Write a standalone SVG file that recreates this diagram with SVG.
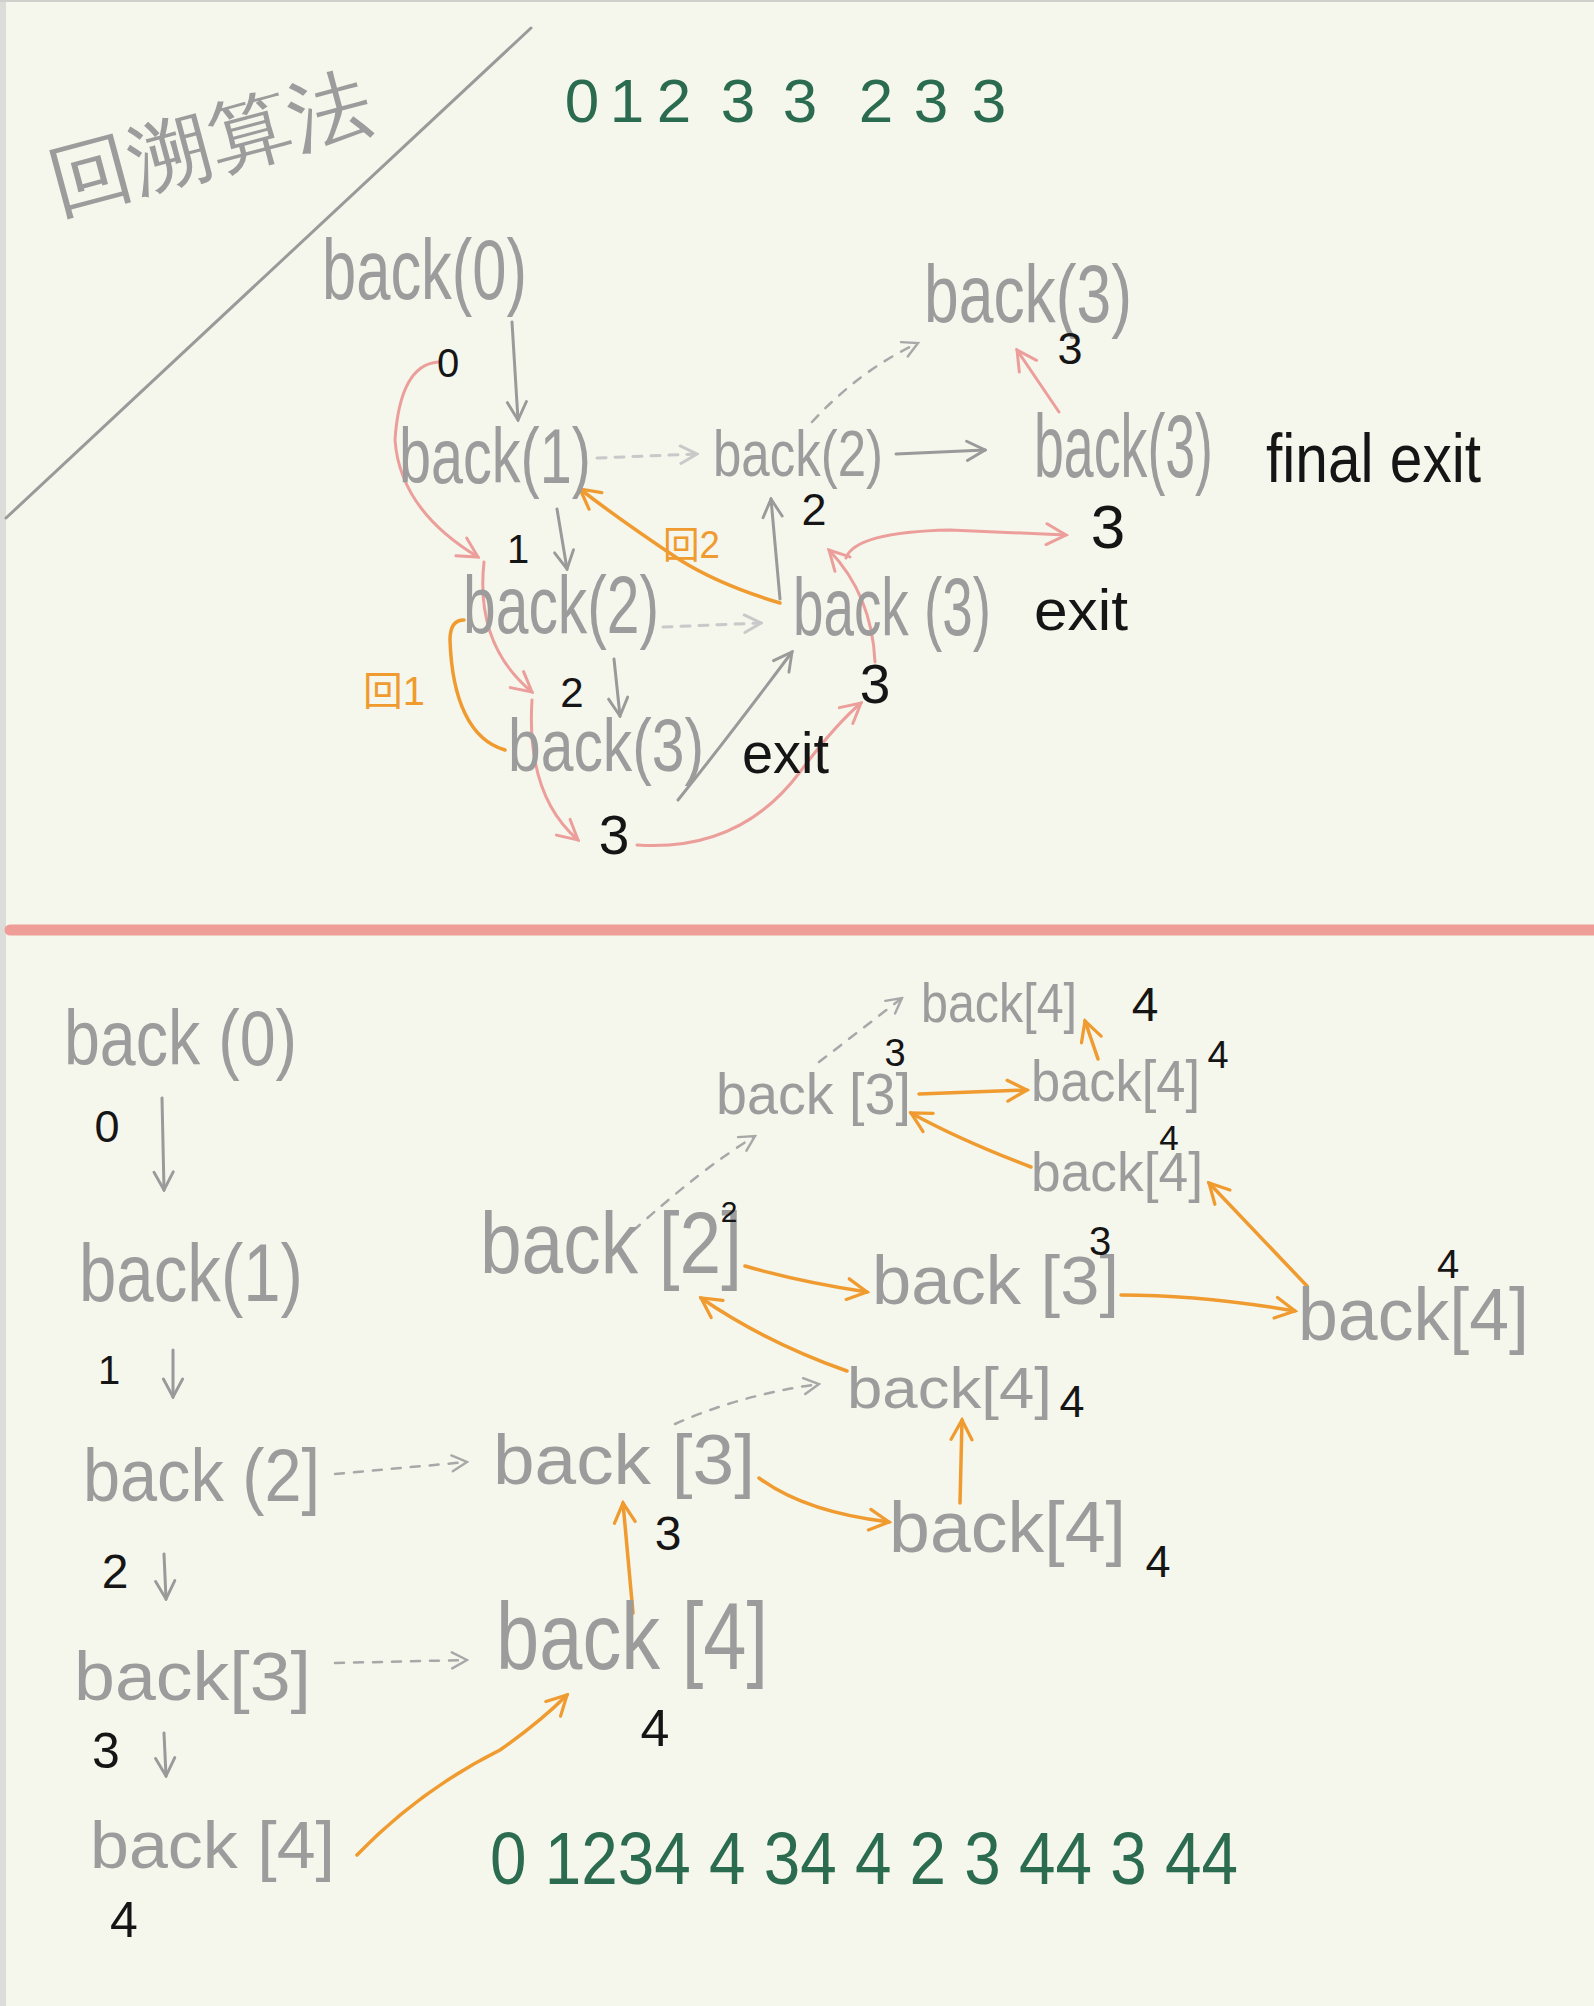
<svg xmlns="http://www.w3.org/2000/svg" width="1594" height="2006" viewBox="0 0 1594 2006">
<defs>
<style>
.n{font-family:"Liberation Sans","DejaVu Sans",sans-serif;fill:#9c9c9c}
.k{font-family:"Liberation Sans","DejaVu Sans",sans-serif;fill:#151515}
.gn{font-family:"Liberation Sans","DejaVu Sans",sans-serif;fill:#2b6b4f}
.o{font-family:"Liberation Sans","Noto Sans CJK SC",sans-serif;fill:#ef9b30}
.cg{fill:none;stroke:#9a9a9a;stroke-width:3;stroke-linecap:round}
.cl{fill:none;stroke:#c9c9c9;stroke-width:3;stroke-linecap:round;stroke-dasharray:9 9}
.cd{fill:none;stroke:#a8a8a8;stroke-width:2.5;stroke-linecap:round;stroke-dasharray:9 10}
.cp{fill:none;stroke:#ec9e9b;stroke-width:3;stroke-linecap:round}
.co{fill:none;stroke:#ef9b30;stroke-width:3.5;stroke-linecap:round}
</style>
<marker id="mg" viewBox="0 0 20 20" refX="18" refY="10" markerWidth="24" markerHeight="24" orient="auto" markerUnits="userSpaceOnUse"><path d="M3,2 L18,10 L3,18" fill="none" stroke="#9a9a9a" stroke-width="2.4" stroke-linecap="round"/></marker>
<marker id="ml" viewBox="0 0 20 20" refX="18" refY="10" markerWidth="22" markerHeight="22" orient="auto" markerUnits="userSpaceOnUse"><path d="M3,2 L18,10 L3,18" fill="none" stroke="#c9c9c9" stroke-width="2.6" stroke-linecap="round"/></marker>
<marker id="md" viewBox="0 0 20 20" refX="18" refY="10" markerWidth="20" markerHeight="20" orient="auto" markerUnits="userSpaceOnUse"><path d="M3,2 L18,10 L3,18" fill="none" stroke="#a8a8a8" stroke-width="2.4" stroke-linecap="round"/></marker>
<marker id="mp" viewBox="0 0 20 20" refX="18" refY="10" markerWidth="26" markerHeight="26" orient="auto" markerUnits="userSpaceOnUse"><path d="M3,2 L18,10 L3,18" fill="none" stroke="#ec9e9b" stroke-width="2.3" stroke-linecap="round"/></marker>
<marker id="mo" viewBox="0 0 20 20" refX="18" refY="10" markerWidth="26" markerHeight="26" orient="auto" markerUnits="userSpaceOnUse"><path d="M3,2 L18,10 L3,18" fill="none" stroke="#ef9b30" stroke-width="2.5" stroke-linecap="round"/></marker>
</defs>
<rect width="1594" height="2006" fill="#f5f6ec"/>
<rect x="0" y="0" width="6" height="2006" fill="#dcdcd8"/>
<rect x="0" y="0" width="1594" height="2" fill="#cfcfcb"/>

<g id="title">
<text class="n" x="36" y="172" font-size="80" font-family="'Noto Sans CJK SC',sans-serif" fill="#a3a3a3" transform="rotate(-15 199 110)" textLength="330" lengthAdjust="spacingAndGlyphs">回溯算法</text>
<line x1="531" y1="28" x2="6" y2="518" stroke="#9a9a9a" stroke-width="3" stroke-linecap="round"/>
</g>

<g id="divider"><line x1="10" y1="930" x2="1594" y2="930" stroke="#ee9e97" stroke-width="11" stroke-linecap="round"/></g>

<g id="seq-top"><text class="gn" y="122" font-size="62" text-anchor="middle" x="582 605 627 651 674 706 738 769 800 838 876 903 931 960 989">0 1 2 3 3 2 3 3</text></g>
<g id="seq-bottom"><text class="gn" x="490" y="1884" font-size="74" textLength="748" lengthAdjust="spacingAndGlyphs">0 1234 4 34 4 2 3 44 3 44</text></g>

<g id="connectors">
<!-- top -->
<path class="cg" d="M512,322 L518,420" marker-end="url(#mg)"/>
<path class="cl" d="M597,458 L697,454" marker-end="url(#ml)"/>
<path class="cg" d="M896,454 L985,450" marker-end="url(#mg)"/>
<path class="cd" d="M812,422 Q860,370 918,343" marker-end="url(#md)"/>
<path class="cp" d="M1059,412 L1017,350" marker-end="url(#mp)"/>
<path class="cg" d="M780,599 L771,499" marker-end="url(#mg)"/>
<path class="cp" d="M875,662 Q872,595 829,550" marker-end="url(#mp)"/>
<path class="cp" d="M846,558 Q855,532 950,530 L1066,535" marker-end="url(#mp)"/>
<path class="co" d="M780,603 Q720,585 680,560 Q620,520 580,489" marker-end="url(#mo)"/>
<path class="cg" d="M557,509 L567,569" marker-end="url(#mg)"/>
<path class="cl" d="M663,627 L761,623" marker-end="url(#ml)"/>
<path class="cg" d="M614,659 L620,716" marker-end="url(#mg)"/>
<path class="cg" d="M678,800 Q730,735 792,652" marker-end="url(#mg)"/>
<path class="co" d="M505,750 C470,740 452,700 450,640 Q450,620 464,620"/>
<path class="cp" d="M438,362 Q400,365 395,440 Q400,510 478,557" marker-end="url(#mp)"/>
<path class="cp" d="M484,562 Q475,645 532,692" marker-end="url(#mp)"/>
<path class="cp" d="M532,700 Q526,795 578,840" marker-end="url(#mp)"/>
<path class="cp" d="M637,845 Q740,852 800,772 Q835,725 861,703" marker-end="url(#mp)"/>
<!-- bottom -->
<path class="cg" d="M162,1098 L164,1190" marker-end="url(#mg)"/>
<path class="cg" d="M173,1350 L173,1397" marker-end="url(#mg)"/>
<path class="cd" d="M335,1474 L467,1462" marker-end="url(#md)"/>
<path class="cg" d="M164,1554 L166,1599" marker-end="url(#mg)"/>
<path class="cd" d="M335,1663 L467,1660" marker-end="url(#md)"/>
<path class="cg" d="M164,1733 L166,1776" marker-end="url(#mg)"/>
<path class="co" d="M357,1855 Q420,1790 500,1750 Q540,1722 567,1695" marker-end="url(#mo)"/>
<path class="co" d="M633,1613 L623,1503" marker-end="url(#mo)"/>
<path class="cd" d="M675,1424 Q740,1395 819,1384" marker-end="url(#md)"/>
<path class="co" d="M759,1478 Q805,1512 889,1522" marker-end="url(#mo)"/>
<path class="co" d="M960,1503 L962,1420" marker-end="url(#mo)"/>
<path class="co" d="M847,1371 Q765,1342 701,1298" marker-end="url(#mo)"/>
<path class="cd" d="M633,1231 Q700,1170 755,1136" marker-end="url(#md)"/>
<path class="co" d="M745,1266 Q800,1282 867,1292" marker-end="url(#mo)"/>
<path class="co" d="M1121,1295 Q1200,1295 1295,1311" marker-end="url(#mo)"/>
<path class="co" d="M1307,1286 L1209,1183" marker-end="url(#mo)"/>
<path class="co" d="M1031,1167 Q960,1140 911,1113" marker-end="url(#mo)"/>
<path class="cd" d="M819,1062 L902,998" marker-end="url(#md)"/>
<path class="co" d="M919,1094 L1027,1090" marker-end="url(#mo)"/>
<path class="co" d="M1098,1059 L1085,1021" marker-end="url(#mo)"/>
</g>

<!-- top nodes -->
<g id="t-back0"><text class="n" x="322" y="299" font-size="85" textLength="205" lengthAdjust="spacingAndGlyphs">back(0)</text></g>
<g id="t-back1"><text class="n" x="399" y="483" font-size="78" textLength="192" lengthAdjust="spacingAndGlyphs">back(1)</text></g>
<g id="t-back2a"><text class="n" x="713" y="476" font-size="64" textLength="170" lengthAdjust="spacingAndGlyphs">back(2)</text></g>
<g id="t-back3a"><text class="n" x="1034" y="477" font-size="89" textLength="179" lengthAdjust="spacingAndGlyphs">back(3)</text></g>
<g id="t-back3up"><text class="n" x="924" y="322" font-size="82" textLength="208" lengthAdjust="spacingAndGlyphs">back(3)</text></g>
<g id="t-back2b"><text class="n" x="463" y="633" font-size="82" textLength="196" lengthAdjust="spacingAndGlyphs">back(2)</text></g>
<g id="t-back3b"><text class="n" x="793" y="635" font-size="81" textLength="198" lengthAdjust="spacingAndGlyphs">back (3)</text></g>
<g id="t-back3c"><text class="n" x="508" y="771" font-size="75" textLength="196" lengthAdjust="spacingAndGlyphs">back(3)</text></g>

<g id="t-labels">
<text class="k" x="448" y="377" font-size="40" text-anchor="middle">0</text>
<text class="k" x="1070" y="364" font-size="45" text-anchor="middle">3</text>
<text class="k" x="814" y="525" font-size="45" text-anchor="middle">2</text>
<text class="k" x="1108" y="548" font-size="62" text-anchor="middle">3</text>
<text class="k" x="518" y="563" font-size="40" text-anchor="middle">1</text>
<text class="k" x="572" y="707" font-size="42" text-anchor="middle">2</text>
<text class="k" x="875" y="703" font-size="55" text-anchor="middle">3</text>
<text class="k" x="614" y="854" font-size="55" text-anchor="middle">3</text>
<text class="k" x="1266" y="482" font-size="68" textLength="215" lengthAdjust="spacingAndGlyphs">final exit</text>
<text class="k" x="1034" y="630" font-size="58" textLength="94" lengthAdjust="spacingAndGlyphs">exit</text>
<text class="k" x="742" y="773" font-size="58" textLength="87" lengthAdjust="spacingAndGlyphs">exit</text>
<text class="o" x="663" y="558" font-size="38" textLength="57" lengthAdjust="spacingAndGlyphs">回2</text>
<text class="o" x="363" y="705" font-size="40" textLength="62" lengthAdjust="spacingAndGlyphs">回1</text>
</g>

<!-- bottom nodes -->
<g id="b-back0"><text class="n" x="64" y="1065" font-size="78" textLength="233" lengthAdjust="spacingAndGlyphs">back (0)</text></g>
<g id="b-back1"><text class="n" x="79" y="1301" font-size="82" textLength="224" lengthAdjust="spacingAndGlyphs">back(1)</text></g>
<g id="b-back2"><text class="n" x="83" y="1501" font-size="75" textLength="237" lengthAdjust="spacingAndGlyphs">back (2]</text></g>
<g id="b-back3"><text class="n" x="74" y="1700" font-size="68" textLength="237" lengthAdjust="spacingAndGlyphs">back[3]</text></g>
<g id="b-back4"><text class="n" x="90" y="1868" font-size="66" textLength="245" lengthAdjust="spacingAndGlyphs">back [4]</text></g>
<g id="b-back4big"><text class="n" x="496" y="1669" font-size="95" textLength="272" lengthAdjust="spacingAndGlyphs">back [4]</text></g>
<g id="b-back3m"><text class="n" x="493" y="1484" font-size="70" textLength="262" lengthAdjust="spacingAndGlyphs">back [3]</text></g>
<g id="b-back4m"><text class="n" x="889" y="1552" font-size="72" textLength="237" lengthAdjust="spacingAndGlyphs">back[4]</text></g>
<g id="b-back4s"><text class="n" x="847" y="1408" font-size="57" textLength="205" lengthAdjust="spacingAndGlyphs">back[4]</text></g>
<g id="b-back2c"><text class="n" x="480" y="1273" font-size="88" textLength="262" lengthAdjust="spacingAndGlyphs">back [2]</text></g>
<g id="b-back3c"><text class="n" x="872" y="1304" font-size="68" textLength="247" lengthAdjust="spacingAndGlyphs">back [3]</text></g>
<g id="b-back4r"><text class="n" x="1298" y="1340" font-size="74" textLength="231" lengthAdjust="spacingAndGlyphs">back[4]</text></g>
<g id="b-back4u"><text class="n" x="1031" y="1191" font-size="55" textLength="172" lengthAdjust="spacingAndGlyphs">back[4]</text></g>
<g id="b-back3t"><text class="n" x="716" y="1114" font-size="57" textLength="195" lengthAdjust="spacingAndGlyphs">back [3]</text></g>
<g id="b-back4t"><text class="n" x="921" y="1022" font-size="55" textLength="156" lengthAdjust="spacingAndGlyphs">back[4]</text></g>
<g id="b-back4t2"><text class="n" x="1031" y="1101" font-size="57" textLength="169" lengthAdjust="spacingAndGlyphs">back[4]</text></g>

<g id="b-labels">
<text class="k" x="107" y="1142" font-size="45" text-anchor="middle">0</text>
<text class="k" x="109" y="1384" font-size="40" text-anchor="middle">1</text>
<text class="k" x="115" y="1588" font-size="48" text-anchor="middle">2</text>
<text class="k" x="106" y="1768" font-size="50" text-anchor="middle">3</text>
<text class="k" x="124" y="1937" font-size="50" text-anchor="middle">4</text>
<text class="k" x="655" y="1746" font-size="52" text-anchor="middle">4</text>
<text class="k" x="668" y="1550" font-size="48" text-anchor="middle">3</text>
<text class="k" x="1158" y="1577" font-size="45" text-anchor="middle">4</text>
<text class="k" x="1072" y="1417" font-size="45" text-anchor="middle">4</text>
<text class="k" x="729" y="1222" font-size="30" text-anchor="middle">2</text>
<text class="k" x="1100" y="1255" font-size="40" text-anchor="middle">3</text>
<text class="k" x="1448" y="1278" font-size="40" text-anchor="middle">4</text>
<text class="k" x="1169" y="1150" font-size="35" text-anchor="middle">4</text>
<text class="k" x="895" y="1066" font-size="38" text-anchor="middle">3</text>
<text class="k" x="1145" y="1021" font-size="48" text-anchor="middle">4</text>
<text class="k" x="1218" y="1068" font-size="38" text-anchor="middle">4</text>
</g>
</svg>
